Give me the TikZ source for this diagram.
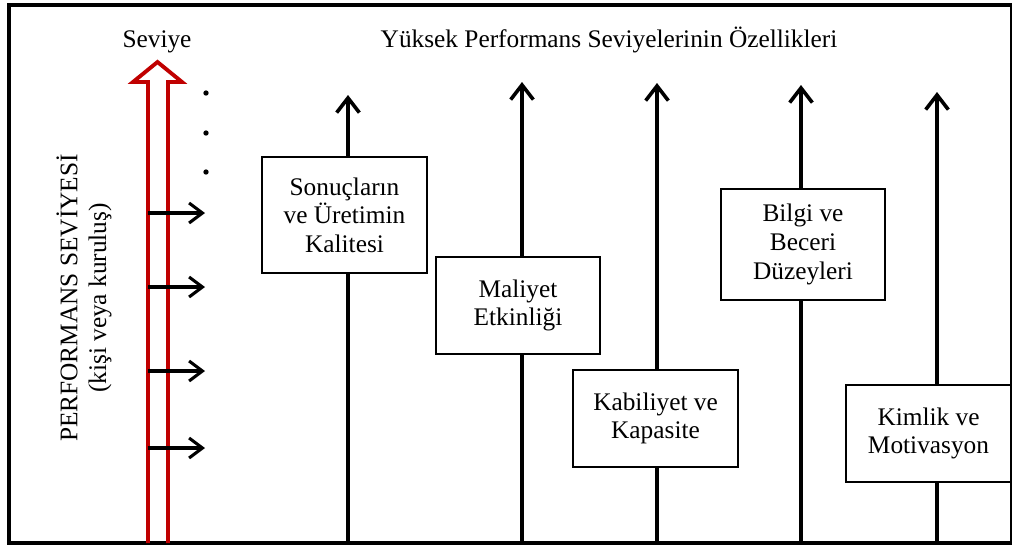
\documentclass[tikz,border=0pt]{standalone}
\usepackage{fontspec}
\setmainfont{Liberation Serif}
\usetikzlibrary{arrows.meta}
\definecolor{levelred}{HTML}{C00000}
\begin{document}
\begin{tikzpicture}[x=0.75pt,y=-0.75pt,
  frame/.style={line width=2.3pt},
  riser/.style={line width=2.7pt, -{Straight Barb[length=11pt,width=17pt]}},
  tick/.style={line width=2.3pt, -{Straight Barb[length=10pt,width=15pt]}},
  card/.style={draw, line width=1.5pt, fill=white, align=center, inner sep=0pt,
    minimum width=123.5pt, font=\fontsize{19}{21.5}\selectfont},
  lbl/.style={font=\fontsize{19}{21.5}\selectfont, inner sep=0pt},
  rail/.style={draw=levelred, line width=2.9pt, line join=miter}
]
\useasboundingbox (0,0) rectangle (1012,547);
% outer frame
\draw[frame] (9,5) rectangle (1012,543);

% headings
\node[lbl, anchor=base] (lvl) at (157,47) {Seviye};
\node[lbl, anchor=base] (ttl) at (609,47) {Yüksek Performans Seviyelerinin Özellikleri};

% axis label
\node[lbl, rotate=90, align=center] (axis) at (84,298) {PERFORMANS SEVİYESİ\\(kişi veya kuruluş)};

% red level axis drawn as a hollow double arrow
\coordinate (railL) at (148,543);
\coordinate (railR) at (168,543);
\draw[rail] (railL) -- (148,82) -- (133,82) -- (157.5,62) -- (182,82) -- (168,82) -- (railR);

% continuation dots
\foreach \yy [count=\i] in {93,133,172}
  \fill (206,\yy) circle[radius=2pt] coordinate (dot\i);

% level ticks
\foreach \yy [count=\i] in {213,287,371,448}{
  \coordinate (ts\i) at (148,\yy);
  \coordinate (te\i) at (205,\yy);
  \draw[tick] (ts\i) -- (te\i);
}

% vertical characteristic axes
\coordinate (b1) at (348,543); \coordinate (t1) at (348,95);
\coordinate (b2) at (522,543); \coordinate (t2) at (522,82);
\coordinate (b3) at (657,543); \coordinate (t3) at (657,83);
\coordinate (b4) at (801,543); \coordinate (t4) at (801,85);
\coordinate (b5) at (937,543); \coordinate (t5) at (937,92);
\foreach \i in {1,...,5} \draw[riser] (b\i) -- (t\i);

% characteristic boxes
\node[card, minimum height=87pt] (c1) at (344.5,215) {Sonuçların\\ve Üretimin\\Kalitesi};
\node[card, minimum height=72.75pt] (c2) at (518,305.5) {Maliyet\\Etkinliği};
\node[card, minimum height=72.75pt] (c3) at (655.5,418.5) {Kabiliyet ve\\Kapasite};
\node[card, minimum height=83.25pt] (c4) at (803,244.5) {Bilgi ve\\Beceri\\Düzeyleri};
\node[card, minimum height=72.75pt] (c5) at (928.5,433.5) {Kimlik ve\\Motivasyon};
\end{tikzpicture}
\end{document}
